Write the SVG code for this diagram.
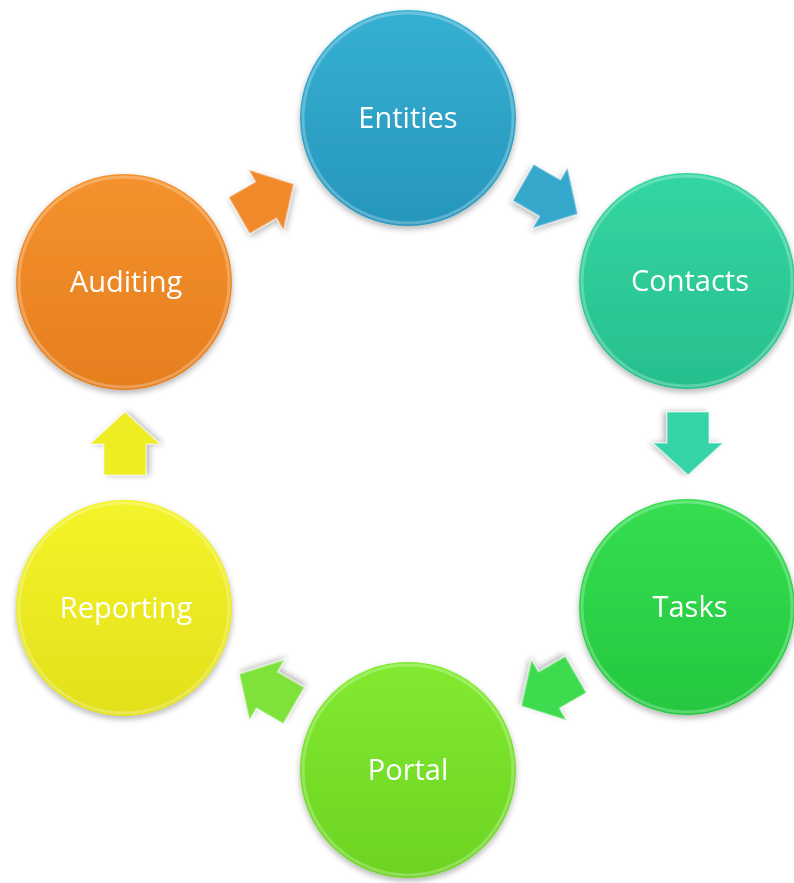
<svg xmlns="http://www.w3.org/2000/svg" width="794" height="883" viewBox="0 0 794 883">
<style>
.lbl{font-family:"Open Sans","Liberation Sans",sans-serif;font-size:29px;fill:#ffffff;text-anchor:middle}
.rim{fill:none;stroke:#ffffff;stroke-opacity:0.25;stroke-width:3}
</style>
<defs>
<filter id="sh" x="-20%" y="-20%" width="140%" height="140%">
<feGaussianBlur in="SourceAlpha" stdDeviation="3"/>
<feOffset dx="0" dy="3" result="b"/>
<feComponentTransfer><feFuncA type="linear" slope="0.3"/></feComponentTransfer>
<feMerge><feMergeNode/><feMergeNode in="SourceGraphic"/></feMerge>
</filter>
<linearGradient id="gB" x1="0" y1="0" x2="0" y2="1"><stop offset="0" stop-color="#36B0D2"/><stop offset="1" stop-color="#2796BC"/></linearGradient>
<linearGradient id="gT" x1="0" y1="0" x2="0" y2="1"><stop offset="0" stop-color="#33D6A2"/><stop offset="1" stop-color="#27BF8E"/></linearGradient>
<linearGradient id="gG" x1="0" y1="0" x2="0" y2="1"><stop offset="0" stop-color="#35DE50"/><stop offset="1" stop-color="#24C83E"/></linearGradient>
<linearGradient id="gL" x1="0" y1="0" x2="0" y2="1"><stop offset="0" stop-color="#82EA30"/><stop offset="1" stop-color="#6CD422"/></linearGradient>
<linearGradient id="gY" x1="0" y1="0" x2="0" y2="1"><stop offset="0" stop-color="#F4F42A"/><stop offset="1" stop-color="#E2E01C"/></linearGradient>
<linearGradient id="gO" x1="0" y1="0" x2="0" y2="1"><stop offset="0" stop-color="#F5922E"/><stop offset="1" stop-color="#E57E1E"/></linearGradient>
<path id="arr" d="M-31,-21 L0,-21 L0,-35 L32,0 L0,35 L0,21 L-31,21 Z"/>
</defs>
<g id="connectors">
<use href="#arr" transform="translate(550,198) rotate(30)" fill="#35A8CC" stroke="#ffffff" stroke-opacity="0.4" stroke-width="1.5" filter="url(#sh)"/>
<use href="#arr" transform="translate(688,443) rotate(90)" fill="#36D4A8" stroke="#ffffff" stroke-opacity="0.4" stroke-width="1.5" filter="url(#sh)"/>
<use href="#arr" transform="translate(549,690) rotate(150)" fill="#3CDB4E" stroke="#ffffff" stroke-opacity="0.4" stroke-width="1.5" filter="url(#sh)"/>
<use href="#arr" transform="translate(267,690) rotate(-150)" fill="#7FE23A" stroke="#ffffff" stroke-opacity="0.4" stroke-width="1.5" filter="url(#sh)"/>
<use href="#arr" transform="translate(125,444) rotate(-90)" fill="#EEEC22" stroke="#ffffff" stroke-opacity="0.4" stroke-width="1.5" filter="url(#sh)"/>
<use href="#arr" transform="translate(266,200) rotate(-30)" fill="#F08A2A" stroke="#ffffff" stroke-opacity="0.4" stroke-width="1.5" filter="url(#sh)"/>
</g>
<g id="entities" filter="url(#sh)">
<circle cx="408" cy="118" r="108" fill="url(#gB)"/>
<circle cx="408" cy="118" r="105" class="rim"/>
<text x="408" y="128" class="lbl">Entities</text>
</g>
<g id="contacts" filter="url(#sh)">
<circle cx="687" cy="281" r="108" fill="url(#gT)"/>
<circle cx="687" cy="281" r="105" class="rim"/>
<text x="690" y="291" class="lbl">Contacts</text>
</g>
<g id="tasks" filter="url(#sh)">
<circle cx="687" cy="607" r="108" fill="url(#gG)"/>
<circle cx="687" cy="607" r="105" class="rim"/>
<text x="690" y="617" class="lbl">Tasks</text>
</g>
<g id="portal" filter="url(#sh)">
<circle cx="408" cy="770" r="108" fill="url(#gL)"/>
<circle cx="408" cy="770" r="105" class="rim"/>
<text x="408" y="780" class="lbl">Portal</text>
</g>
<g id="reporting" filter="url(#sh)">
<circle cx="124" cy="608" r="108" fill="url(#gY)"/>
<circle cx="124" cy="608" r="105" class="rim"/>
<text x="126" y="618" class="lbl">Reporting</text>
</g>
<g id="auditing" filter="url(#sh)">
<circle cx="124" cy="282" r="108" fill="url(#gO)"/>
<circle cx="124" cy="282" r="105" class="rim"/>
<text x="126" y="292" class="lbl">Auditing</text>
</g>
</svg>
